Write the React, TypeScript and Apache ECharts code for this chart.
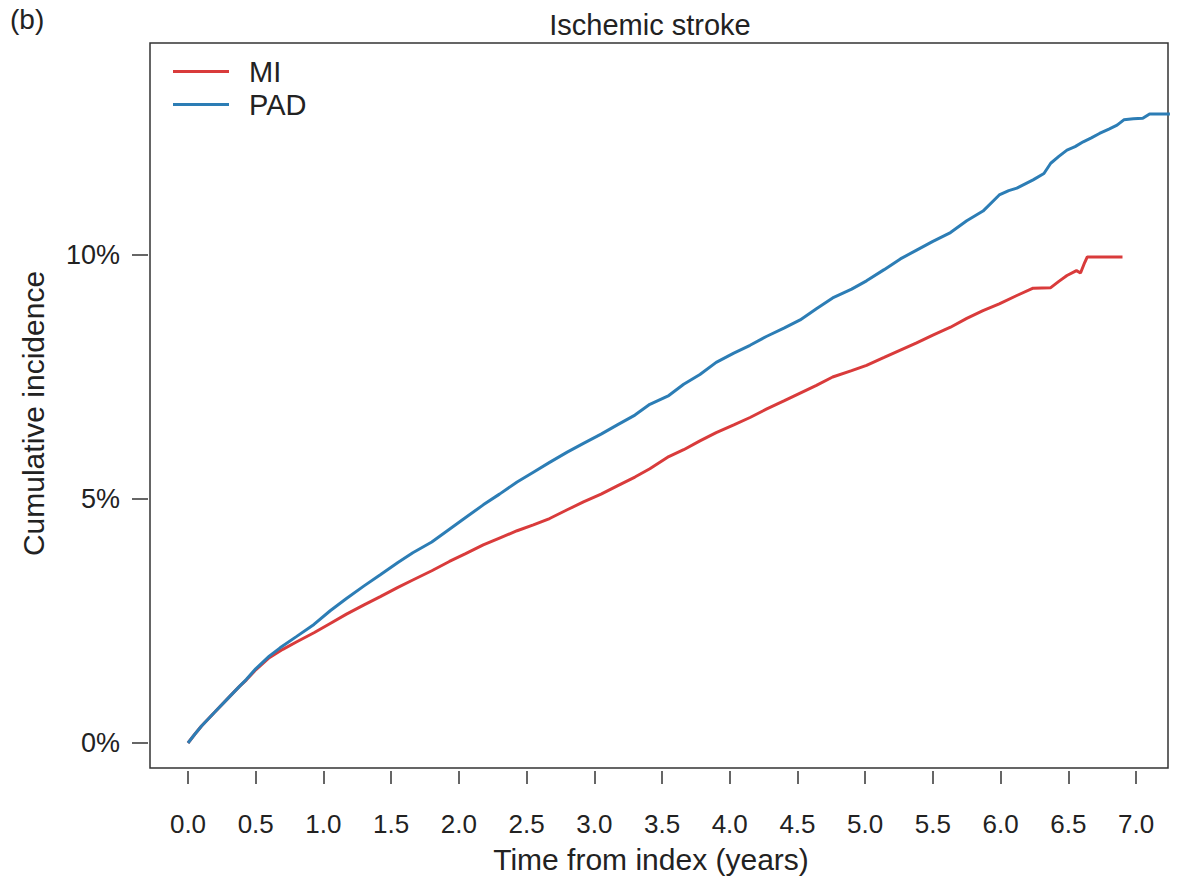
import React, { useEffect, useRef } from "react";
import * as echarts from "echarts";

const xTickValues = [0, 0.5, 1, 1.5, 2, 2.5, 3, 3.5, 4, 4.5, 5, 5.5, 6, 6.5, 7];
const yTickValues = [0, 5, 10];

const padTime = [0, 0.05, 0.1, 0.2, 0.3, 0.38, 0.43, 0.5, 0.6, 0.68, 0.8, 0.93, 1.05, 1.17, 1.3, 1.42, 1.55, 1.66, 1.8, 1.92, 2.05, 2.18, 2.3, 2.43, 2.55, 2.67, 2.8, 2.92, 3.05, 3.17, 3.3, 3.41, 3.55, 3.66, 3.78, 3.9, 4.03, 4.15, 4.27, 4.4, 4.52, 4.64, 4.76, 4.9, 5.01, 5.14, 5.26, 5.38, 5.5, 5.63, 5.75, 5.87, 5.99, 6.06, 6.12, 6.24, 6.32, 6.37, 6.43, 6.49, 6.55, 6.61, 6.67, 6.73, 6.8, 6.86, 6.91, 6.98, 7.05, 7.1, 7.25];
const padValue = [0, 0.18, 0.35, 0.64, 0.93, 1.16, 1.3, 1.52, 1.78, 1.95, 2.18, 2.43, 2.71, 2.96, 3.22, 3.45, 3.7, 3.9, 4.12, 4.36, 4.62, 4.88, 5.1, 5.35, 5.55, 5.75, 5.96, 6.14, 6.33, 6.52, 6.72, 6.94, 7.12, 7.35, 7.55, 7.8, 7.99, 8.15, 8.33, 8.5, 8.67, 8.9, 9.12, 9.3, 9.47, 9.7, 9.92, 10.1, 10.28, 10.46, 10.7, 10.9, 11.23, 11.32, 11.37, 11.54, 11.67, 11.88, 12.02, 12.15, 12.22, 12.32, 12.4, 12.49, 12.58, 12.66, 12.77, 12.79, 12.8, 12.89, 12.89];

const miTime = [0, 0.05, 0.1, 0.2, 0.3, 0.38, 0.43, 0.5, 0.6, 0.7, 0.8, 0.93, 1.05, 1.17, 1.3, 1.42, 1.55, 1.66, 1.8, 1.93, 2.05, 2.18, 2.3, 2.43, 2.55, 2.67, 2.8, 2.92, 3.05, 3.17, 3.3, 3.41, 3.55, 3.66, 3.78, 3.9, 4.03, 4.15, 4.27, 4.4, 4.52, 4.64, 4.76, 4.9, 5.01, 5.14, 5.26, 5.38, 5.5, 5.63, 5.75, 5.87, 5.99, 6.12, 6.24, 6.37, 6.43, 6.49, 6.56, 6.59, 6.62, 6.64, 6.9];
const miValue = [0, 0.18, 0.35, 0.64, 0.93, 1.16, 1.29, 1.5, 1.75, 1.92, 2.07, 2.26, 2.45, 2.64, 2.83, 3.0, 3.19, 3.34, 3.53, 3.72, 3.88, 4.06, 4.2, 4.35, 4.47, 4.6, 4.78, 4.94, 5.1, 5.27, 5.45, 5.62, 5.87, 6.01, 6.19, 6.36, 6.52, 6.67, 6.84, 7.01, 7.17, 7.33, 7.5, 7.63, 7.74, 7.9, 8.05, 8.2, 8.36, 8.52, 8.7, 8.86, 9.0, 9.17, 9.32, 9.33, 9.46, 9.58, 9.68, 9.63, 9.84, 9.96, 9.96];

const FONT = "'Liberation Sans', Arial, Helvetica, sans-serif";
const TXT = "#222";

export default function App() {
  const ref = useRef<HTMLDivElement>(null);
  useEffect(() => {
    if (!ref.current) return;
    const chart = echarts.init(ref.current, undefined, { renderer: "svg" });
    const pad = padTime.map((t, i) => [t, padValue[i]]);
    const mi = miTime.map((t, i) => [t, miValue[i]]);
    chart.setOption({
      animation: false,
      backgroundColor: "#fff",
      textStyle: { fontFamily: FONT },
      title: {
        text: "Ischemic stroke",
        left: 645,
        top: 5,
        textAlign: "center",
        textStyle: { fontFamily: FONT, fontSize: 29, fontWeight: "normal", color: TXT },
      },
      graphic: [
        {
          type: "text",
          left: 10,
          top: 5,
          style: { text: "(b)", fontFamily: FONT, fontSize: 28, fill: TXT },
        },
      ],
      legend: {
        orient: "vertical",
        left: 168,
        top: 50,
        itemWidth: 56,
        itemHeight: 3,
        itemGap: 0,
        icon: "rect",
        data: ["MI", "PAD"],
        textStyle: {
          fontFamily: FONT,
          fontSize: 29,
          color: TXT,
          lineHeight: 33,
          padding: [0, 0, 0, 15],
        },
      },
      grid: {
        left: 150,
        top: 43,
        width: 1018,
        height: 725,
        show: true,
        borderColor: "#333",
        borderWidth: 1.5,
        backgroundColor: "transparent",
      },
      xAxis: {
        type: "value",
        min: -0.2806,
        max: 7.236,
        offset: 3,
        axisLine: { show: false, onZero: false },
        splitLine: { show: false },
        axisTick: {
          show: true,
          customValues: xTickValues,
          length: 13,
          lineStyle: { color: "#333", width: 1.5 },
        },
        axisLabel: {
          customValues: xTickValues,
          formatter: (v: number) => v.toFixed(1),
          fontFamily: FONT,
          fontSize: 26,
          color: TXT,
          margin: 40,
        },
        name: "Time from index (years)",
        nameLocation: "middle",
        nameGap: 73,
        nameTextStyle: { fontFamily: FONT, fontSize: 30, color: TXT, padding: [0, 16, 0, 0] },
      },
      yAxis: {
        type: "value",
        min: -0.512,
        max: 14.344,
        offset: 2,
        axisLine: { show: false, onZero: false },
        splitLine: { show: false },
        axisTick: {
          show: true,
          customValues: yTickValues,
          length: 16,
          lineStyle: { color: "#333", width: 1.5 },
        },
        axisLabel: {
          customValues: yTickValues,
          formatter: (v: number) => v + "%",
          fontFamily: FONT,
          fontSize: 27,
          color: TXT,
          margin: 28,
        },
        name: "Cumulative incidence",
        nameLocation: "middle",
        nameGap: 100,
        nameTextStyle: { fontFamily: FONT, fontSize: 30, color: TXT, padding: [0, 16, 0, 0] },
      },
      series: [
        {
          name: "MI",
          type: "line",
          data: mi,
          showSymbol: false,
          symbol: "none",
          color: "#D93B3B",
          lineStyle: { width: 3, color: "#D93B3B" },
          z: 2,
        },
        {
          name: "PAD",
          type: "line",
          data: pad,
          showSymbol: false,
          symbol: "none",
          color: "#2C7DB5",
          lineStyle: { width: 3, color: "#2C7DB5" },
          z: 3,
        },
      ],
    });
    return () => chart.dispose();
  }, []);
  return (
    <div
      ref={ref}
      style={{ position: "fixed", left: 0, top: 0, width: 1183, height: 882, background: "#fff" }}
    />
  );
}
